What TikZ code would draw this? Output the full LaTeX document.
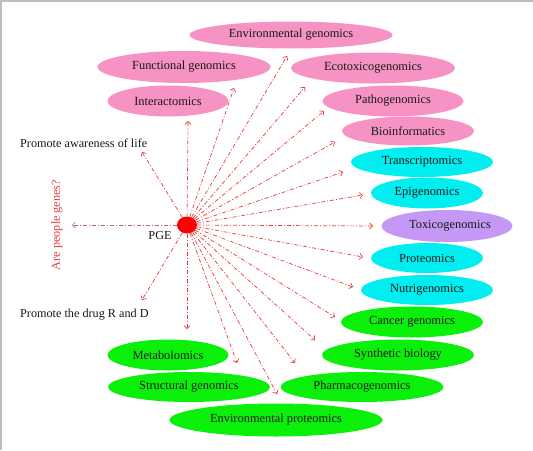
\documentclass[tikz,border=0pt]{standalone}
\usepackage{fontspec}
\setmainfont{Liberation Serif}
\usetikzlibrary{shapes.geometric,arrows.meta}
\definecolor{pinkE}{RGB}{246,146,196}
\definecolor{cyanE}{RGB}{0,238,240}
\definecolor{purpE}{RGB}{198,152,246}
\definecolor{greenE}{RGB}{10,240,10}
\definecolor{arrRed}{RGB}{232,60,60}
\definecolor{arrPurp}{RGB}{175,100,150}
\definecolor{frameGray}{RGB}{190,190,190}
\definecolor{txt}{RGB}{25,25,25}
\tikzset{
  oval/.style={ellipse, draw=none, inner sep=0pt, font=\fontsize{12.4}{14}\selectfont, text=txt},
  pinkoval/.style={oval, fill=pinkE},
  cyanoval/.style={oval, fill=cyanE},
  purpoval/.style={oval, fill=purpE},
  greenoval/.style={oval, fill=greenE},
  plain/.style={inner sep=0pt, font=\fontsize{12.2}{14}\selectfont, text=txt},
  arr/.style={draw=arrRed, line width=0.7pt, dash pattern=on 4pt off 2pt on 1pt off 2pt,
     -{Straight Barb[length=3pt,width=6pt]}},
  arrp/.style={arr, draw=arrPurp},
}
\begin{document}
\begin{tikzpicture}[x=1pt,y=-1pt]
\useasboundingbox (0,0) rectangle (533,450);
\fill[white] (0,0) rectangle (533,450);
\draw[frameGray, line width=1.5pt] (1,450) -- (1,1) -- (533,1);

% ellipses
\node[pinkoval, minimum width=203, minimum height=27] (envgen) at (291,35) {Environmental genomics};
\node[pinkoval, minimum width=173, minimum height=32] (funcgen) at (184,67) {Functional genomics};
\node[pinkoval, minimum width=164, minimum height=31] (ecotox) at (373,68) {Ecotoxicogenomics};
\node[pinkoval, minimum width=121, minimum height=31] (interact) at (168,101) {Interactomics};
\node[pinkoval, minimum width=141, minimum height=31] (patho) at (393,101) {Pathogenomics};
\node[pinkoval, minimum width=132, minimum height=29] (bioinf) at (408,131) {Bioinformatics};
\node[cyanoval, minimum width=142, minimum height=30] (transc) at (422,162) {Transcriptomics};
\node[cyanoval, minimum width=112, minimum height=31] (epigen) at (427,193) {Epigenomics};
\node[purpoval, minimum width=131, minimum height=32] (toxico) at (447,226) {\hspace*{6pt}Toxicogenomics};
\node[cyanoval, minimum width=112, minimum height=30] (proteo) at (427,258) {Proteomics};
\node[cyanoval, minimum width=132, minimum height=30] (nutri) at (427,290) {Nutrigenomics};
\node[greenoval, minimum width=142, minimum height=31] (cancer) at (412,322) {Cancer genomics};
\node[greenoval, minimum width=121, minimum height=31] (metab) at (168,355) {Metabolomics};
\node[greenoval, minimum width=152, minimum height=31] (synth) at (398,355) {Synthetic biology};
\node[greenoval, minimum width=162, minimum height=30] (struct) at (189,387) {Structural genomics};
\node[greenoval, minimum width=163, minimum height=30] (pharma) at (362,387) {Pharmacogenomics};
\node[greenoval, minimum width=213, minimum height=33] (envprot) at (276,420) {Environmental proteomics};

% centre
\node[ellipse, fill=red, draw=none, minimum width=20, minimum height=17, inner sep=0pt] (pge) at (187,225) {};
\node[plain] (pgelab) at (160,236) {PGE};

% side texts
\node[plain, anchor=west] (aware) at (20,143) {Promote awareness of life};
\node[plain, anchor=west] (drug) at (20,315) {Promote the drug R and D};
\node[plain, text=arrRed, rotate=90] (people) at (57,225) {Are people genes?};

% arrow tips
\coordinate (tAware) at (142,152);
\coordinate (tPeople) at (72,225);
\coordinate (tDrug) at (142,300);
\coordinate (tInter) at (188,121);
\coordinate (tFunc) at (234,88);
\coordinate (tEnvgen) at (287,56);
\coordinate (tEco) at (305,87);
\coordinate (tPatho) at (324,111);
\coordinate (tBio) at (335,142);
\coordinate (tTrans) at (343,172);
\coordinate (tEpi) at (363,195);
\coordinate (tTox) at (373,226);
\coordinate (tProt) at (363,257);
\coordinate (tNutri) at (353,287);
\coordinate (tCancer) at (335,317);
\coordinate (tSynth) at (315,340);
\coordinate (tPharma) at (295,363);
\coordinate (tEnvprot) at (277,394);
\coordinate (tStruct) at (237,363);
\coordinate (tMetab) at (187,329);

\foreach \t in {tAware,tDrug,tInter,tFunc,tEnvgen,tEco,tPatho,tBio,tTrans,tEpi,tTox,tProt,tNutri,tCancer,tSynth,tPharma,tEnvprot,tStruct,tMetab}
  \draw[arr] (pge) -- (\t);
\draw[arrp] (pge) -- (tPeople);
\end{tikzpicture}
\end{document}
